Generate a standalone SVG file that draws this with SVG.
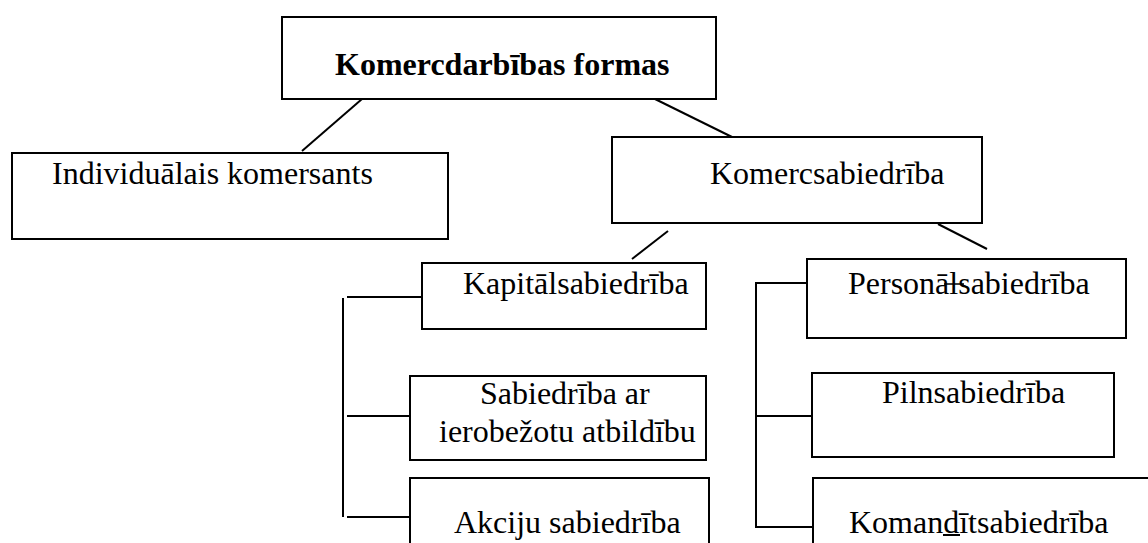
<svg xmlns="http://www.w3.org/2000/svg" width="1148" height="543" viewBox="0 0 1148 543">
<style>
.box{fill:#fff;stroke:#000;stroke-width:2}
.ln{fill:none;stroke:#000;stroke-width:2}
.t{font-family:"Liberation Serif","Times New Roman",serif;font-size:32px;fill:#000}
.b{font-weight:bold}
</style>
<rect width="1148" height="543" fill="#fff"/>
<g id="connectors">
<line class="ln" x1="362" y1="99" x2="302" y2="151"/>
<line class="ln" x1="655" y1="99" x2="732" y2="137"/>
<line class="ln" x1="668" y1="231" x2="632" y2="259"/>
<line class="ln" x1="938" y1="224" x2="987" y2="249"/>
<line class="ln" x1="343" y1="298" x2="343" y2="517"/>
<line class="ln" x1="347" y1="297" x2="422" y2="297"/>
<line class="ln" x1="347" y1="416" x2="410" y2="416"/>
<line class="ln" x1="347" y1="517" x2="410" y2="517"/>
<polyline class="ln" points="807,283 756,283 756,527 813,527"/>
<line class="ln" x1="755" y1="416" x2="812" y2="416"/>
</g>
<g id="n-root"><rect class="box" x="282" y="17" width="434" height="82"/><text class="t b" x="335" y="75">Komercdarbības formas</text></g>
<g id="n-individ"><rect class="box" x="12" y="153" width="436" height="86"/><text class="t" x="52" y="184">Individuālais komersants</text></g>
<g id="n-komerc"><rect class="box" x="612" y="137" width="370" height="86"/><text class="t" x="710" y="184">Komercsabiedrība</text></g>
<g id="n-kapital"><rect class="box" x="422" y="263" width="284" height="66"/><text class="t" x="463" y="294">Kapitālsabiedrība</text></g>
<g id="n-sia"><rect class="box" x="410" y="376" width="296" height="84"/><text class="t" x="480" y="404">Sabiedrība ar</text><text class="t" x="439" y="442">ierobežotu atbildību</text></g>
<g id="n-akciju"><rect class="box" x="410" y="478" width="299" height="80"/><text class="t" x="454" y="533">Akciju sabiedrība</text></g>
<g id="n-personal"><rect class="box" x="807" y="259" width="319" height="79"/><text class="t" x="848" y="294">Personālsabiedrība</text><line class="ln" x1="944" y1="284" x2="964" y2="284" style="stroke-width:1.5"/></g>
<g id="n-pilns"><rect class="box" x="812" y="373" width="302" height="84"/><text class="t" x="882" y="403">Pilnsabiedrība</text></g>
<g id="n-komandit"><rect class="box" x="813" y="478" width="360" height="80"/><text class="t" x="849" y="533">Komandītsabiedrība</text><line class="ln" x1="943" y1="535" x2="960" y2="535"/></g>
</svg>
